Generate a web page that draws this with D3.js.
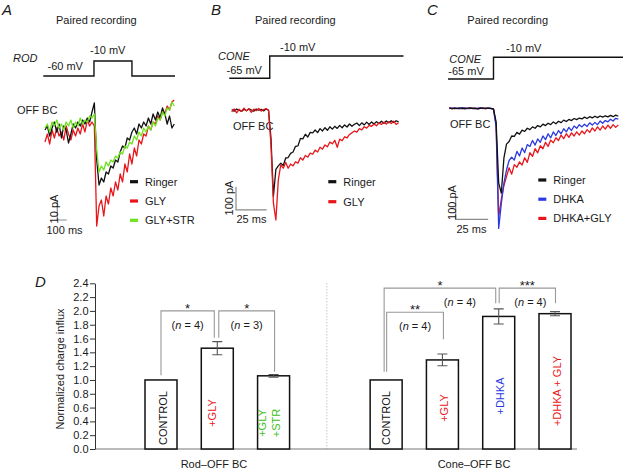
<!DOCTYPE html>
<html><head><meta charset="utf-8">
<script src="https://cdn.jsdelivr.net/npm/d3@7"></script>
<style>body{margin:0;background:#fff} svg{display:block;font-family:"Liberation Sans",Arial,sans-serif}</style>
</head><body>
<svg id="c" width="623" height="473"></svg>
<script>
// ================= DATA =================
// Panel A (rod -> OFF BC), sampled every 25 ms, current in pA
const timeStepA = 25;
const ringerA = [0,2,-3,1,4,-1,3,-4,2,0,
  -6.5,-2,3,1,4,2,5,3,6,4,
  9,13.5,-15,-27.5,-24,-26,-21,-22,-18,-19,
  -15,-16,-11,-8,-9,-4,-5,-1,1,-2,
  3,1,4,2,6,3,8,5,9,6,
  11,8,3,7,1,3];
const glyA = [-6,-2,-7,0,-4,1,-3,-1,-5,2,
  -2,-5,0,-3,1,-2,3,-1,5,2,
  4,2,-48,-38,-35,-43,-33,-37,-29,-33,
  -26,-30,-22,-26,-17,-21,-12,-17,-9,-13,
  -5,-7,-2,-3,2,0,4,3,7,5,
  9,8,12,10,14,15];
const glyStrA = [1,3,-1,4,2,5,1,3,0,4,
  2,5,1,4,2,6,3,5,4,7,
  6,8,-10,-21,-18,-20,-16,-18,-15,-16,
  -13,-14,-11,-12,-8,-9,-6,-7,-3,-5,
  -1,-3,1,-1,2,0,4,2,6,5,
  9,7,11,10,14,12];
const protocolA = [[-18,-60],[521,-60],[521,-10],[925,-10],[925,-60],[1383,-60]];

// Panel B (cone -> OFF BC), sampled every 2 ms
const timeStepB = 2;
const ringerB = [2,-5,4,-1,-6,3,-3,5,0,-5,4,-1,3,-4,4,0,
  -120,-370,-255,-240,-228,-238,-206,-204,-186,-180,
  -156,-154,-122,-124,-104,-116,-96,-98,-86,-97,
  -80,-90,-76,-87,-72,-82,-70,-79,-66,-76,
  -64,-73,-60,-70,-61,-56,-67,-55,-64,-52,
  -62,-51,-60,-50,-58,-48,-57,-47,-55,-46,
  -54,-46,-51];
const glyB = [-8,5,-12,3,-6,8,-4,6,-10,4,-3,7,-5,2,6,-2,
  -150,-400,-472,-300,-235,-250,-225,-250,-232,-240,
  -222,-228,-205,-215,-195,-202,-185,-190,-172,-180,
  -160,-168,-150,-158,-138,-145,-130,-160,-125,-132,
  -115,-120,-105,-98,-90,-95,-80,-85,-72,-78,
  -66,-70,-60,-68,-55,-62,-52,-60,-50,-58,
  -48,-62,-55];
const protocolB = [[-2,-65],[31,-65],[31,-10],[140,-10]];

// Panel C (cone -> OFF BC, DHKA), sampled every 2 ms
const timeStepC = 2;
const ringerC = [2,-2,1,-1,2,0,-2,1,2,-1,1,-2,0,2,-1,1,0,-3,
  -60,-330,-374,-220,-158,-146,-122,-124,-106,-114,
  -96,-102,-88,-94,-82,-88,-76,-82,-70,-76,
  -66,-72,-60,-68,-57,-63,-52,-58,-49,-54,
  -45,-50,-43,-47,-39,-45,-37,-42,-35,-41,
  -34,-39,-33,-38,-31,-37,-30,-35];
const dhkaC = [3,-1,2,0,-2,3,1,-1,2,0,-2,1,3,0,-1,2,0,-5,
  -80,-529,-420,-330,-272,-230,-215,-228,-190,-210,
  -175,-195,-160,-168,-142,-162,-135,-150,-122,-138,
  -112,-130,-104,-120,-98,-112,-90,-104,-84,-98,
  -78,-88,-72,-82,-70,-80,-64,-74,-62,-72,
  -56,-66,-54,-60,-48,-56,-44,-48];
const dhkaGlyC = [-1,2,-2,1,0,-2,2,0,-1,2,0,-2,1,-1,2,0,-1,-4,
  -70,-477,-400,-340,-301,-262,-290,-248,-260,-236,
  -250,-218,-238,-195,-212,-178,-196,-165,-178,-150,
  -168,-140,-152,-130,-142,-118,-134,-112,-128,-108,
  -122,-104,-118,-100,-112,-94,-106,-86,-100,-82,
  -96,-78,-92,-74,-88,-72,-84,-74];
const protocolC = [[-1,-65],[34,-65],[34,-10],[134,-10]];

// Panel D (bar chart)
const barLabels = ["CONTROL","+GLY","+GLY\n+STR","CONTROL","+GLY","+DHKA","+DHKA + GLY"];
const barSlots = [0,1,2,4,5,6,7];
const barValues = [1.0,1.46,1.06,1.0,1.29,1.92,1.96];
const barErrors = [0,0.095,0.02,0,0.085,0.11,0.03];
const barLabelColors = ["#111","#e8161b","#3cc020","#111","#e8161b","#2a3ae0","#e8161b"];
const groupLabels = ["Rod–OFF BC","Cone–OFF BC"];
const yTicks = [0,0.2,0.4,0.6,0.8,1.0,1.2,1.4,1.6,1.8,2.0,2.2,2.4];
// significance brackets: bar indices, top level, leg bottoms (data units)
const brackets = [
  {a:0,b:1,top:2.0,ya:1.07,yb:1.61,stars:"*",n:"4"},
  {a:1,b:2,top:2.0,ya:1.61,yb:1.12,stars:"*",n:"3"},
  {a:3,b:4,top:1.98,ya:1.12,yb:1.59,stars:"**",n:"4"},
  {a:3,b:5,top:2.33,ya:1.12,yb:2.11,stars:"*",n:"4"},
  {a:5,b:6,top:2.33,ya:2.11,yb:2.11,stars:"***",n:"4"}
];

// ================= DRAW =================
const svg = d3.select("#c");
const BLACK="#111", RED="#e8161b", GREEN="#6ee21e", BLUE="#2a3ae0", GRAY="#8a8a8a";

function text(x,y,s,o={}){
  const t = svg.append("text").attr("x",x).attr("y",y).text(s)
    .attr("font-size",o.size||11).attr("fill",o.fill||"#1a1a1a")
    .attr("text-anchor",o.anchor||"start");
  if(o.italic) t.attr("font-style","italic");
  if(o.weight) t.attr("font-weight",o.weight);
  if(o.rot){ t.attr("transform",`rotate(${o.rot},${x},${y})`).attr("dominant-baseline","central"); }
  return t;
}

function panel(cfg){
  const x = d3.scaleLinear().domain(cfg.tDomain).range(cfg.xRange);
  const y = d3.scaleLinear().domain(cfg.iDomain).range(cfg.yRange);
  const v = d3.scaleLinear().domain(cfg.vDomain).range(cfg.vRange);
  svg.append("path").datum(cfg.protocol)
    .attr("d", d3.line().x(d=>x(d[0])).y(d=>v(d[1])))
    .attr("fill","none").attr("stroke","#111").attr("stroke-width",1.4);
  cfg.traces.forEach(tr=>{
    svg.append("path").datum(tr.values)
      .attr("d", d3.line().x((d,i)=>x(i*cfg.step)).y(d=>y(d)))
      .attr("fill","none").attr("stroke",tr.color).attr("stroke-width",1.3)
      .attr("stroke-linejoin","round");
  });
  const sb = cfg.scaleBar;
  svg.append("path")
    .attr("d",`M${x(sb.t0)},${y(sb.i0)}V${y(sb.i0 - sb.di)}H${x(sb.t0+sb.dt)}`)
    .attr("fill","none").attr("stroke",GRAY).attr("stroke-width",1.2);
  cfg.legend.forEach((l,i)=>{
    const ly = cfg.legendY + i*cfg.legendDy;
    svg.append("line").attr("x1",cfg.legendX).attr("x2",cfg.legendX+8)
      .attr("y1",ly).attr("y2",ly).attr("stroke",l.color).attr("stroke-width",3.2);
    text(cfg.legendX+15, ly+4, l.name);
  });
}

// ---- Panel A ----
text(2,15,"A",{size:15,italic:true});
text(56,24,"Paired recording");
text(13,62,"ROD",{italic:true});
text(47.5,70,"-60 mV");
text(90,54,"-10 mV");
text(17,114,"OFF BC");
panel({
  tDomain:[0,1400], xRange:[45,176.6],
  iDomain:[-50,20], yRange:[230,90],
  vDomain:[-60,-10], vRange:[76,61],
  protocol:protocolA, step:timeStepA,
  traces:[{values:glyA,color:RED},{values:ringerA,color:BLACK},{values:glyStrA,color:GREEN}],
  scaleBar:{t0:131,i0:-35,di:10,dt:100},
  legend:[{name:"Ringer",color:BLACK},{name:"GLY",color:RED},{name:"GLY+STR",color:GREEN}],
  legendX:130, legendY:181.7, legendDy:19.3
});
text(53.5,209,"10 pA",{rot:-90,anchor:"middle"});
text(46.5,234,"100 ms");

// ---- Panel B ----
text(211,15,"B",{size:15,italic:true});
text(255,24,"Paired recording");
text(218,60,"CONE",{italic:true});
text(226.5,74,"-65 mV");
text(280,50.7,"-10 mV");
text(233,130,"OFF BC");
panel({
  tDomain:[0,140], xRange:[231.7,403.5],
  iDomain:[-500,0], yRange:[226.5,110],
  vDomain:[-65,-10], vRange:[78.3,56],
  protocol:protocolB, step:timeStepB,
  traces:[{values:ringerB,color:BLACK},{values:glyB,color:RED}],
  scaleBar:{t0:3.5,i0:-329,di:100,dt:25},
  legend:[{name:"Ringer",color:BLACK},{name:"GLY",color:RED}],
  legendX:328.3, legendY:181.7, legendDy:20
});
text(228.5,198,"100 pA",{rot:-90,anchor:"middle"});
text(236.5,223,"25 ms");

// ---- Panel C ----
text(427,15,"C",{size:15,italic:true});
text(467.3,24,"Paired recording");
text(449.3,63.3,"CONE",{italic:true});
text(448.3,75,"-65 mV");
text(506,51.7,"-10 mV");
text(450,128.3,"OFF BC");
panel({
  tDomain:[0,130], xRange:[449.3,618.3],
  iDomain:[-500,0], yRange:[221.8,108.3],
  vDomain:[-65,-10], vRange:[79,57.3],
  protocol:protocolC, step:timeStepC,
  traces:[{values:dhkaGlyC,color:RED},{values:dhkaC,color:BLUE},{values:ringerC,color:BLACK}],
  scaleBar:{t0:4.9,i0:-389,di:100,dt:25},
  legend:[{name:"Ringer",color:BLACK},{name:"DHKA",color:BLUE},{name:"DHKA+GLY",color:RED}],
  legendX:538.3, legendY:180, legendDy:19.2
});
text(451.5,202.5,"100 pA",{rot:-90,anchor:"middle"});
text(456.5,233,"25 ms");

// ---- Panel D ----
text(35,287,"D",{size:15,italic:true});
const yD = d3.scaleLinear().domain([0,2.4]).range([449,283.3]);
const xD = d3.scaleLinear().domain([0,7]).range([161,555]);
const barW = 32;

svg.append("line").attr("x1",95).attr("x2",577).attr("y1",yD(0)).attr("y2",yD(0))
  .attr("stroke","#777").attr("stroke-width",1.2);
svg.append("line").attr("x1",xD(3)-3).attr("x2",xD(3)-3).attr("y1",yD(2.4)).attr("y2",yD(0))
  .attr("stroke","#999").attr("stroke-width",0.8).attr("stroke-dasharray","1,2");
const ax = svg.append("g").attr("transform","translate(95,0)")
  .call(d3.axisLeft(yD).tickValues(yTicks).tickFormat(d3.format(".1f")).tickSize(5).tickSizeOuter(0));
ax.select(".domain").attr("stroke","#333");
ax.selectAll(".tick line").attr("stroke","#333");
ax.selectAll("text").attr("font-size",11).attr("fill","#1a1a1a")
  .attr("font-family","'Liberation Sans',Arial,sans-serif").attr("x",-6.5);
text(60,369,"Normalized charge influx",{rot:-90,anchor:"middle"});

barValues.forEach((val,i)=>{
  const cx = xD(barSlots[i]);
  svg.append("rect").attr("x",cx-barW/2).attr("y",yD(val)).attr("width",barW)
    .attr("height",yD(0)-yD(val)).attr("fill","#fff").attr("stroke","#111").attr("stroke-width",1.5);
  if(barErrors[i]>0){
    const e = barErrors[i];
    svg.append("path")
      .attr("d",`M${cx-5},${yD(val+e)}H${cx+5}M${cx},${yD(val+e)}V${yD(val-e)}M${cx-5},${yD(val-e)}H${cx+5}`)
      .attr("stroke","#555").attr("stroke-width",1.1).attr("fill","none");
  }
});
const labelCenters = [418,413,423,418,408,396,391];
const labelDx = [2,-5,-5,0,2,1,2];
barLabels.forEach((lab,i)=>{
  const cx = xD(barSlots[i]) + labelDx[i];
  const lines = lab.split("\n");
  lines.forEach((ln,j)=>{
    const xx = cx + (j - (lines.length-1)/2)*14;
    text(xx,labelCenters[i],ln,{rot:-90,anchor:"middle",fill:barLabelColors[i]});
  });
});

const legNudge = [[0,-3],[1.5,1],[0.5,1],[-2,-3],[0.5,0.5]];
const nNudge = [0,0,0,20,3];
brackets.forEach((b,k)=>{
  const xa = xD(barSlots[b.a]) + legNudge[k][0];
  const xb = xD(barSlots[b.b]) + legNudge[k][1];
  const yt = yD(b.top);
  svg.append("path").attr("d",`M${xa},${yD(b.ya)}V${yt}H${xb}V${yD(b.yb)}`)
    .attr("fill","none").attr("stroke","#999").attr("stroke-width",1.1);
  const mid = (xa+xb)/2;
  text(mid, yt+2, b.stars, {anchor:"middle", size:13});
  const nt = svg.append("text").attr("x",mid+nNudge[k]).attr("y",yt+18)
    .attr("text-anchor","middle").attr("font-size",11).attr("fill","#1a1a1a");
  nt.append("tspan").text("(");
  nt.append("tspan").attr("font-style","italic").text("n");
  nt.append("tspan").text(" = " + b.n + ")");
});

text(214,468,groupLabels[0],{anchor:"middle"});
text(474,468,groupLabels[1],{anchor:"middle"});
</script>
</body></html>
